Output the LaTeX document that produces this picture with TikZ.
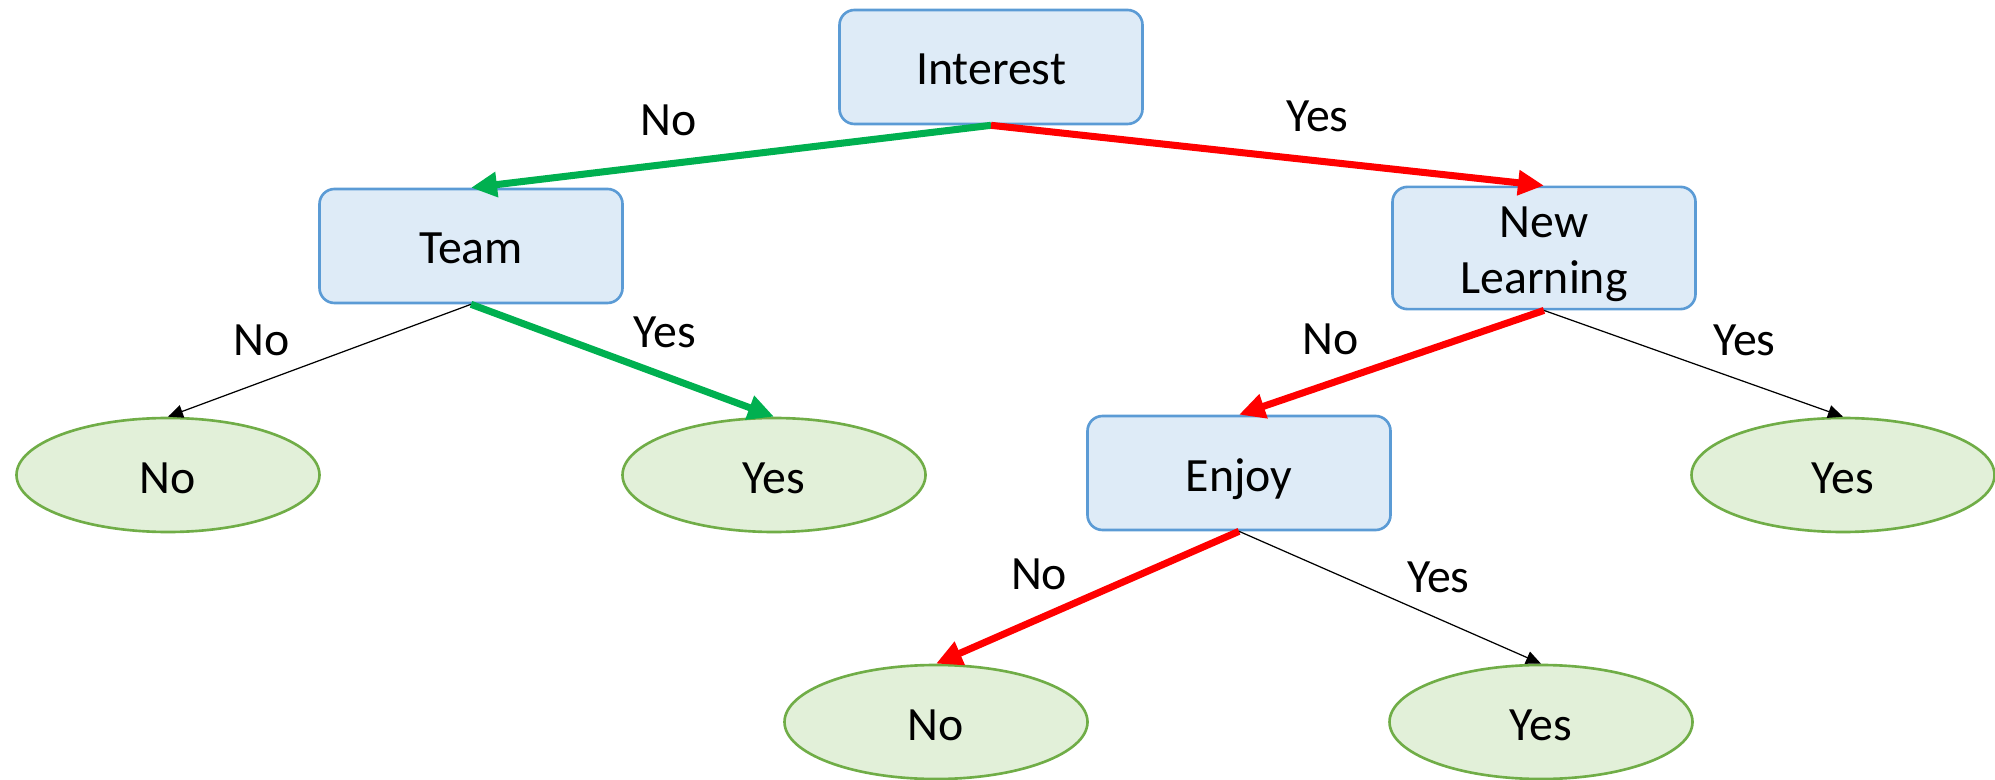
\documentclass[tikz,border=0pt]{standalone}
\usepackage{fontspec}
\setmainfont{Carlito}
\usetikzlibrary{shapes,arrows.meta}
\definecolor{boxfill}{HTML}{DEEBF7}
\definecolor{boxline}{HTML}{5B9BD5}
\definecolor{leaffill}{HTML}{E2F0D9}
\definecolor{leafline}{HTML}{70AD47}
\definecolor{pathgreen}{HTML}{00B050}
\definecolor{pathred}{HTML}{FF0000}

\begin{document}
\begin{tikzpicture}[font=\fontsize{13.6}{16}\selectfont,
  decision node/.style={rectangle,rounded corners=0.15cm,draw=boxline,fill=boxfill,line width=0.75pt,minimum width=3.03cm,minimum height=1.14cm,text height=0.47cm,text depth=0.11cm},
  leaf node/.style={ellipse,draw=leafline,fill=leaffill,line width=0.75pt,minimum width=3.03cm,minimum height=1.14cm,inner sep=0pt,text height=0.47cm,text depth=0.11cm},
  thin path/.style={-{Triangle[length=0.15cm,width=0.13cm]},line width=0.35pt,black},
  green path/.style={-{Triangle[length=0.26cm,width=0.24cm]},line width=2pt,pathgreen},
  red path/.style={-{Triangle[length=0.26cm,width=0.24cm]},line width=2pt,pathred},
  answer/.style={above=2.5mm,inner sep=0pt,text=black}]

  \useasboundingbox (0,0) rectangle (19.95,-7.80);

  \node[decision node] (1) at (9.91,-0.67) {Interest};
  \node[decision node] (2) at (4.71,-2.46) {Team};
  \node[decision node,align=center,text height=1.0cm,text depth=,inner ysep=0.07cm] (3) at (15.44,-2.48) {New\\Learning};
  \node[leaf node] (4) at (1.68,-4.75) {No};
  \node[leaf node] (5) at (7.74,-4.75) {Yes};
  \node[decision node] (6) at (12.39,-4.73) {Enjoy};
  \node[leaf node] (7) at (18.43,-4.75) {Yes};
  \node[leaf node] (8) at (9.36,-7.22) {No};
  \node[leaf node] (9) at (15.41,-7.22) {Yes};

  \path
    (1.south) edge [green path] node[answer,pos=0.62] {No} (2.north)
              edge [red path] node[answer,pos=0.59] {Yes} (3.north)
    (2.south) edge [thin path] node[answer,pos=0.69] {No} (4.north)
              edge [green path] node[answer,pos=0.64] {Yes} (5.north)
    (3.south) edge [red path] node[answer,pos=0.70] {No} (6.north)
              edge [thin path] node[answer,pos=0.67] {Yes} (7.north)
    (6.south) edge [red path] node[answer,pos=0.66] {No} (8.north)
              edge [thin path] node[answer,pos=0.66] {Yes} (9.north);
\end{tikzpicture}
\end{document}
